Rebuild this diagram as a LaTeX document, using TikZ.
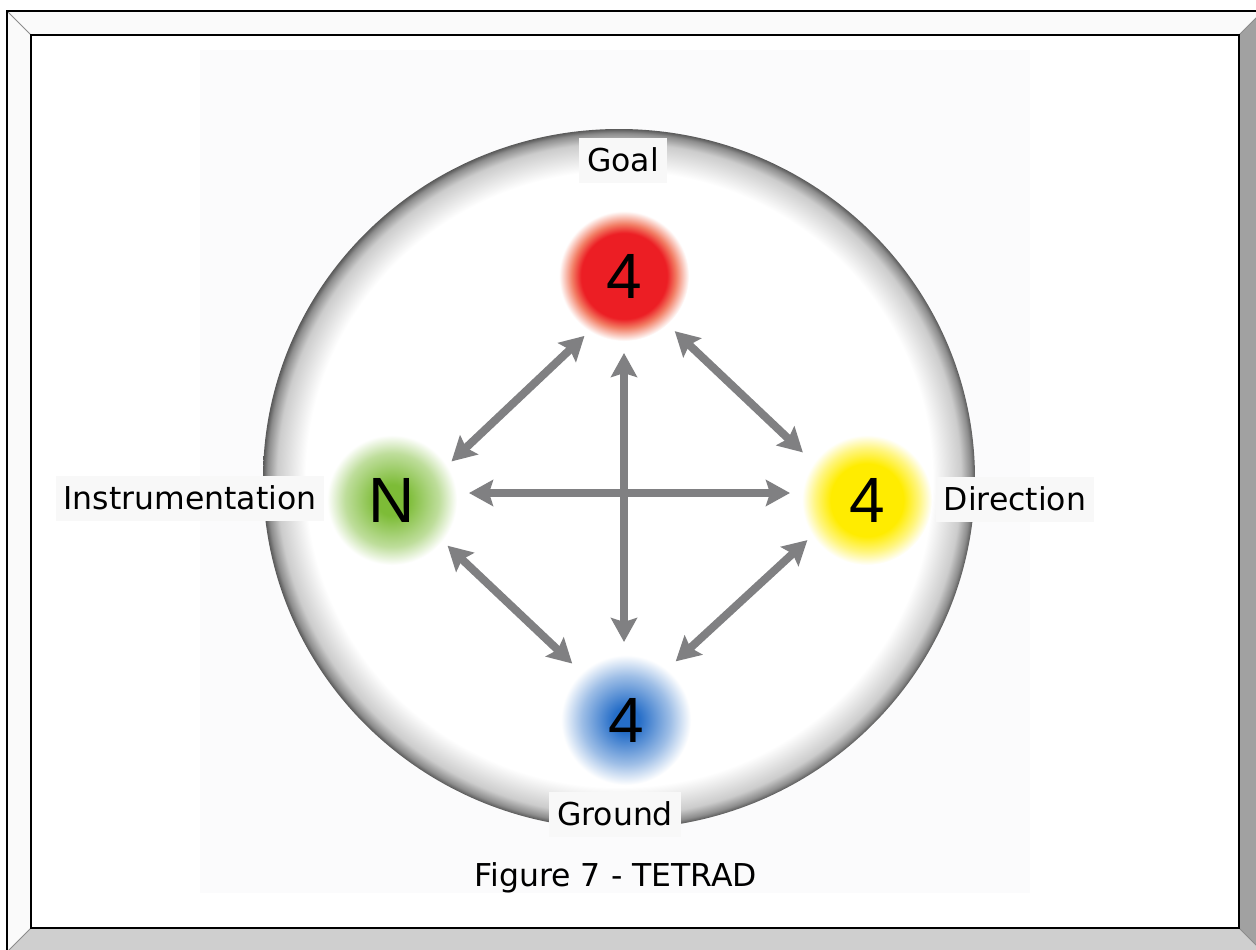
\documentclass[tikz,border=0pt]{standalone}
\usepackage{fontspec}
\setmainfont{DejaVu Sans}
\newfontfamily\numfont{Liberation Sans}
\usetikzlibrary{arrows.meta}
\definecolor{gred}{RGB}{236,30,36}
\definecolor{gredfade}{RGB}{242,125,100}
\definecolor{ggreen}{RGB}{125,188,55}
\definecolor{gyellow}{RGB}{255,236,0}
\definecolor{gblue}{RGB}{38,110,200}
\definecolor{arrgray}{RGB}{128,128,130}
\definecolor{lblbg}{RGB}{248,248,248}
\definecolor{backdrop}{RGB}{251,251,252}
\pgfdeclareradialshading{redglow}{\pgfpoint{0bp}{0bp}}{color(0bp)=(gred); color(16.5bp)=(gred); color(20bp)=(gredfade); color(25bp)=(white); color(50bp)=(white)}
\pgfdeclareradialshading{greenglow}{\pgfpoint{0bp}{0bp}}{color(0bp)=(ggreen); color(6bp)=(ggreen); color(18bp)=(ggreen!50!white); color(25bp)=(white); color(50bp)=(white)}
\pgfdeclareradialshading{yellowglow}{\pgfpoint{0bp}{0bp}}{color(0bp)=(gyellow); color(14bp)=(gyellow); color(20bp)=(gyellow!50!white); color(25bp)=(white); color(50bp)=(white)}
\pgfdeclareradialshading{blueglow}{\pgfpoint{0bp}{0bp}}{color(0bp)=(gblue); color(5bp)=(gblue); color(17bp)=(gblue!45!white); color(25bp)=(white); color(50bp)=(white)}
\pgfdeclareradialshading{rim}{\pgfpoint{0bp}{0bp}}{color(0bp)=(white); color(22bp)=(white); color(24bp)=(black!20); color(24.7bp)=(black!45); color(25bp)=(black!65); color(50bp)=(black!65)}
\tikzset{
  blob/.style={circle, inner sep=0pt, outer sep=0pt, minimum size=130pt, shade, font=\numfont\fontsize{64}{64}\selectfont},
  arr/.style={draw=arrgray, line width=8pt, {Stealth[length=24pt,width=26pt,inset=4pt]}-{Stealth[length=24pt,width=26pt,inset=4pt]}},
  lbl/.style={font=\fontsize{31.5}{31.5}\selectfont, text height=23pt, text depth=0pt, inner xsep=8pt, inner ysep=11pt},
  lblbox/.style={lbl, fill=lblbg},
  bevel/.style={draw=black!45, line width=1pt}
}
\begin{document}
\begin{tikzpicture}[x=1pt,y=-1pt]
\useasboundingbox (0,0) rectangle (1256,950);
\fill[white] (0,0) rectangle (1256,950);
% frame
\begin{scope}
\clip (0,0) rectangle (1256,950);
\fill[black!2] (7,11) -- (1263,11) -- (1239,35) -- (31,35) -- cycle;
\fill[black!2] (7,11) -- (31,35) -- (31,928) -- (7,952) -- cycle;
\fill[black!19] (7,952) -- (31,928) -- (1239,928) -- (1263,952) -- cycle;
\fill[black!37] (1263,11) -- (1239,35) -- (1239,928) -- (1263,952) -- cycle;
\draw[bevel] (7,11) -- (31,35) (7,952) -- (31,928) (1239,928) -- (1263,952) (1239,35) -- (1263,11);
\draw[line width=2pt] (7,11) rectangle (1263,952);
\draw[line width=2pt] (31,35) rectangle (1239,928);
\end{scope}
% faint backdrop
\fill[backdrop] (200,50) rectangle (1030,893);
% big circle
\shade[shading=rim] (619,479) ellipse [x radius=356, y radius=350];
% labels
\node[lblbox] (lgoal) at (623,160) {Goal};
\node[lblbox] (linstr) at (190,498) {Instrumentation};
\node[lblbox] (ldir) at (1015,499) {Direction};
\node[lblbox] (lground) at (615,814) {Ground};
\node[lbl] (caption) at (616,875) {Figure 7 - TETRAD};
% blobs
\node[blob, shading=redglow] (goal) at (624,276) {4};
\node[blob, shading=greenglow] (instr) at (392,500) {N};
\node[blob, shading=yellowglow] (dir) at (867,500) {4};
\node[blob, shading=blueglow] (ground) at (626,720) {4};
% arrows
\draw[arr, shorten <=12pt, shorten >=13pt] (goal.south) -- (goal.south |- ground.north);
\draw[arr, shorten <=12pt, shorten >=12pt] ([yshift=7pt]instr.east) -- ([yshift=7pt]dir.west);
\draw[arr, shorten <=7pt, shorten >=6pt] (goal.238) -- (instr.32);
\draw[arr, shorten <=10pt, shorten >=15pt] (goal.312) -- (dir.145);
\draw[arr, shorten <=7pt, shorten >=13pt] (instr.321) -- (ground.133);
\draw[arr, shorten <=7pt, shorten >=12pt] (dir.213) -- (ground.51);
\end{tikzpicture}
\end{document}
